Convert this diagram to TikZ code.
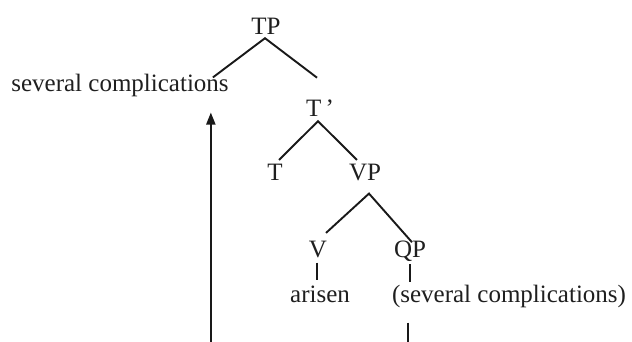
\documentclass[tikz,border=0pt]{standalone}
\usepackage{fontspec}
\setmainfont{Liberation Serif}
\usetikzlibrary{calc,arrows.meta}
\begin{document}
\begin{tikzpicture}[x=1pt,y=-1pt,
  lbl/.style={inner sep=0pt,anchor=base,font=\fontsize{25}{30}\selectfont,text=black!88},
  br/.style={line width=1.9pt,black!90},
  mv/.style={line width=2pt,black!90,-{Triangle[length=12pt,width=9pt]}}]
\useasboundingbox[fill=white] (0,0) rectangle (632,342);
\node[lbl] (TP) at (266,35) {TP};
\node[lbl] (sc) at (120,92) {several complications};
\node[lbl] (Tb) at (320,117) {T\,'};
\node[lbl] (T) at (275,180) {T};
\node[lbl] (VP) at (365,180) {VP};
\node[lbl] (V) at (318,257) {V};
\node[lbl] (QP) at (410,257) {QP};
\node[lbl] (ar) at (320,302) {arisen};
\node[lbl] (sc2) at (509,302) {(several complications)};
\draw[br] ($(sc.north east)+(-16,3)$) -- ($(TP.south)+(-1,3)$) -- ($(Tb.north)+(-3,-22.5)$);
\draw[br] ($(T.north)+(4,-3.5)$) -- ($(Tb.south)+(-2,4)$) -- ($(VP.north)+(-8,-3.5)$);
\draw[br] ($(V.north)+(8,-7.5)$) -- ($(VP.south)+(4,13)$) -- ($(QP.north)+(2,2)$);
\draw[br] ($(V.south)+(-1,5)$) -- ($(ar.north)+(-3,-5)$);
\draw[br] ($(QP.south)+(0,3)$) -- ($(QP.south |- sc2.north)+(0,-2)$);
\begin{scope}
\clip (0,0) rectangle (632,342);
\draw[mv] ($(QP.south |- sc2.south)+(-2,15)$) -- ++(0,50) -| ($(sc.south east)+(-18,15)$);
\end{scope}
\end{tikzpicture}
\end{document}
